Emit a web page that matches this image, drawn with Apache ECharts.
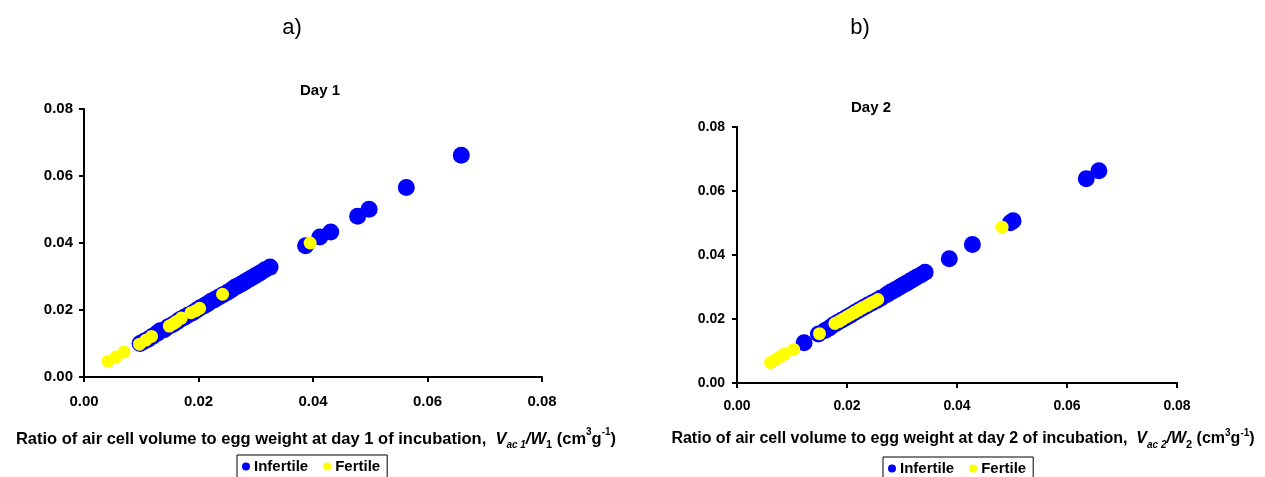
<!DOCTYPE html>
<html>
<head>
<meta charset="utf-8">
<script src="https://cdn.jsdelivr.net/npm/echarts@6/dist/echarts.min.js"></script>
<style>html,body{margin:0;padding:0;background:#fff}#c{width:1265px;height:477px}</style>
</head>
<body>
<div id="c"></div>
<script>
// Axis ticks
const tickValues = [0.00, 0.02, 0.04, 0.06, 0.08];
const seriesNames = ['Infertile', 'Fertile'];

// Day 1: [Vac1/W1 x, y]
const day1Infertile = [
  [0.0098,0.0100],[0.0105,0.0107],[0.0112,0.0113],[0.0120,0.0122],[0.0128,0.0131],[0.0133,0.0138],
  [0.0140,0.0141],[0.0147,0.0150],[0.0155,0.0157],[0.0162,0.0164],[0.0168,0.0172],[0.0175,0.0178],
  [0.0182,0.0185],[0.0190,0.0192],[0.0197,0.0200],[0.0203,0.0207],[0.0210,0.0213],[0.0216,0.0219],
  [0.0222,0.0226],[0.0228,0.0231],[0.0235,0.0238],[0.0242,0.0245],[0.0250,0.0252],[0.0257,0.0260],
  [0.0263,0.0267],[0.0268,0.0272],[0.0274,0.0277],[0.0279,0.0282],[0.0284,0.0287],[0.0290,0.0293],
  [0.0296,0.0299],[0.0302,0.0305],[0.0308,0.0311],[0.0316,0.0320],[0.0325,0.0328],[0.0387,0.0392],
  [0.0412,0.0418],[0.0431,0.0433],[0.0478,0.0480],[0.0498,0.0501],[0.0563,0.0566],[0.0659,0.0662]
];
const day1Fertile = [
  [0.0042,0.0047],[0.0056,0.0060],[0.0070,0.0075],[0.0097,0.0098],[0.0108,0.0110],[0.0118,0.0121],
  [0.0149,0.0152],[0.0156,0.0159],[0.0162,0.0166],[0.0170,0.0176],[0.0187,0.0192],[0.0195,0.0198],
  [0.0202,0.0205],[0.0242,0.0247],[0.0395,0.0400]
];

// Day 2: [Vac2/W2 x, y]
const day2Infertile = [
  [0.0122,0.0126],[0.0148,0.0153],[0.0160,0.0164],[0.0168,0.0172],[0.0175,0.0181],[0.0182,0.0188],
  [0.0190,0.0196],[0.0198,0.0204],[0.0206,0.0212],[0.0214,0.0220],[0.0222,0.0228],[0.0230,0.0236],
  [0.0238,0.0244],[0.0246,0.0251],[0.0254,0.0258],[0.0262,0.0266],[0.0272,0.0276],[0.0278,0.0283],
  [0.0284,0.0288],[0.0290,0.0294],[0.0296,0.0300],[0.0302,0.0306],[0.0308,0.0312],[0.0314,0.0318],
  [0.0320,0.0324],[0.0327,0.0331],[0.0335,0.0338],[0.0342,0.0346],[0.0386,0.0388],[0.0428,0.0433],
  [0.0497,0.0501],[0.0502,0.0507],[0.0635,0.0638],[0.0658,0.0663]
];
const day2Fertile = [
  [0.0061,0.0064],[0.0070,0.0073],[0.0078,0.0082],[0.0086,0.0090],[0.0103,0.0105],[0.0150,0.0154],
  [0.0178,0.0186],[0.0185,0.0192],[0.0192,0.0199],[0.0200,0.0207],[0.0207,0.0214],[0.0214,0.0221],
  [0.0221,0.0228],[0.0228,0.0235],[0.0236,0.0242],[0.0243,0.0249],[0.0250,0.0255],[0.0256,0.0261],
  [0.0482,0.0487]
];

const chart = echarts.init(document.getElementById('c'));
const FF = 'Liberation Sans, Arial, sans-serif';
const axisCommon = (gi, margin, fs) => ({
  gridIndex: gi, type: 'value', min: tickValues[0], max: tickValues[tickValues.length-1], interval: 0.02,
  splitLine: {show: false},
  axisLine: {show: true, lineStyle: {color: '#000', width: 2}},
  axisTick: {show: true, length: 5, lineStyle: {color: '#000', width: 2}},
  axisLabel: {color: '#000', fontFamily: FF, fontWeight: 'bold', fontSize: fs, margin: margin,
    formatter: v => v.toFixed(2)}
});
const makeRich = fs => {
  const sub = Math.round(fs * 0.62), lh = Math.round(fs * 1.4), off = Math.round(fs * 0.45);
  return {
    n: {fontFamily: FF, fontWeight: 'bold', fontSize: fs, color: '#000', lineHeight: lh},
    i: {fontFamily: FF, fontWeight: 'bold', fontStyle: 'italic', fontSize: fs, color: '#000', lineHeight: lh},
    is: {fontFamily: FF, fontWeight: 'bold', fontStyle: 'italic', fontSize: sub, color: '#000', lineHeight: lh, verticalAlign: 'bottom', padding: [off,0,0,0]},
    s: {fontFamily: FF, fontWeight: 'bold', fontSize: sub + 1, color: '#000', lineHeight: lh, verticalAlign: 'bottom', padding: [off,0,0,0]},
    p: {fontFamily: FF, fontWeight: 'bold', fontSize: sub, color: '#000', lineHeight: lh, verticalAlign: 'top', padding: [0,0,off,0]}
  };
};
const xName = d => `{n|Ratio of air cell volume to egg weight at day ${d} of incubation,  }{i|V}{is|ac ${d}}{i|/W}{s|${d}}{n| (cm}{p|3}{n|g}{p|-1}{n|)}`;

const scat = (name, data, gi, color, size) => ({
  name, type: 'scatter', xAxisIndex: gi, yAxisIndex: gi, data, symbol: 'circle', symbolSize: size,
  itemStyle: {color, opacity: 1}, emphasis: {disabled: true}, animation: false
});
const legendCommon = {
  data: seriesNames, icon: 'circle', itemWidth: 8, itemHeight: 8, itemGap: 15,
  borderColor: '#000', borderWidth: 1, padding: [4, 7, 8, 5], orient: 'horizontal',
  textStyle: {fontFamily: FF, fontWeight: 'bold', fontSize: 15, color: '#000', padding: [0,0,0,-1]},
  selectedMode: false
};

chart.setOption({
  animation: false,
  backgroundColor: '#fff',
  grid: [
    {left: 84, right: 723, top: 109, bottom: 100},
    {left: 737, right: 88, top: 127, bottom: 94}
  ],
  xAxis: [axisCommon(0, 17, 15), axisCommon(1, 16, 14)],
  yAxis: [axisCommon(0, 11, 15), axisCommon(1, 12, 14)],
  legend: [
    Object.assign({left: 237, top: 455}, legendCommon),
    Object.assign({left: 883, top: 457}, legendCommon)
  ],
  series: [
    scat(seriesNames[0], day1Infertile, 0, '#0000FF', 17),
    scat(seriesNames[1], day1Fertile, 0, '#FFFF00', 13),
    scat(seriesNames[0], day2Infertile, 1, '#0000FF', 17),
    scat(seriesNames[1], day2Fertile, 1, '#FFFF00', 13)
  ],
  graphic: [
    {type: 'text', style: {text: 'a)', x: 292, y: 28, align: 'center', verticalAlign: 'middle', fontFamily: FF, fontSize: 22, fill: '#000'}},
    {type: 'text', style: {text: 'b)', x: 860, y: 28, align: 'center', verticalAlign: 'middle', fontFamily: FF, fontSize: 22, fill: '#000'}},
    {type: 'text', style: {text: 'Day 1', x: 320, y: 91, align: 'center', verticalAlign: 'middle', fontFamily: FF, fontWeight: 'bold', fontSize: 15, fill: '#000'}},
    {type: 'text', style: {text: 'Day 2', x: 871, y: 108, align: 'center', verticalAlign: 'middle', fontFamily: FF, fontWeight: 'bold', fontSize: 15, fill: '#000'}},
    {type: 'text', style: {text: xName(1), rich: makeRich(16.5), x: 316, y: 439, align: 'center', verticalAlign: 'middle'}},
    {type: 'text', style: {text: xName(2), rich: makeRich(16), x: 963, y: 439, align: 'center', verticalAlign: 'middle'}}
  ]
});
</script>
</body>
</html>
